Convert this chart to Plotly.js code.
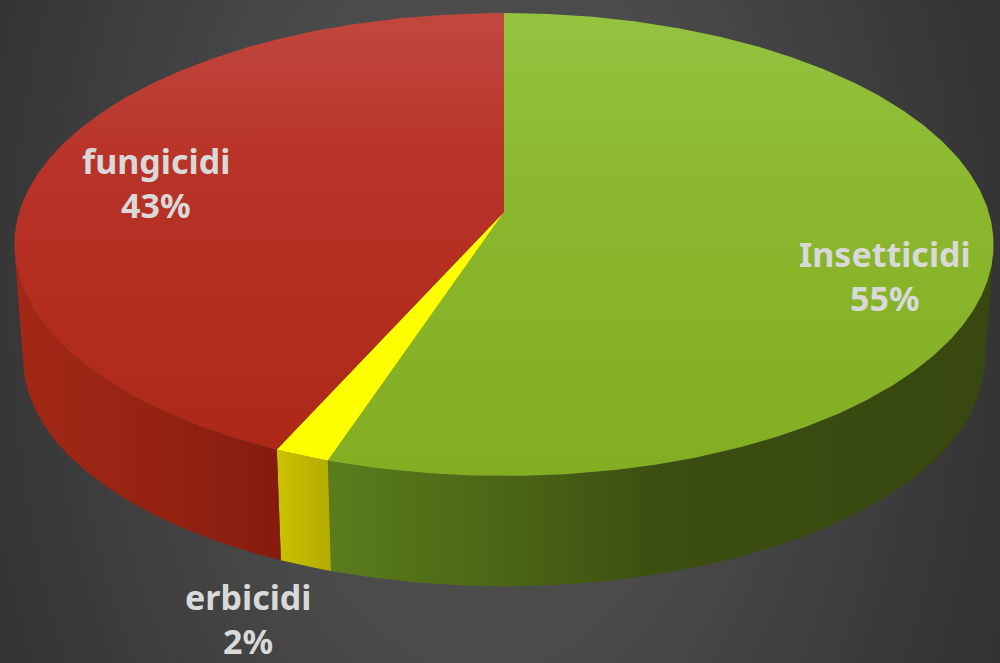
<!DOCTYPE html>
<html><head><meta charset="utf-8">
<script src="https://cdn.plot.ly/plotly-3.0.1.min.js"></script>
<style>
html,body{margin:0;padding:0;width:1000px;height:663px;overflow:hidden;
background:radial-gradient(ellipse 620px 1000px at 485px 300px,#4e4e4e 0%,#4b4b4b 36%,#363636 80%,#2e2e2e 100%);}
#c{width:1000px;height:663px}
</style></head><body><div id="c"></div>
<script>
// Data
const categories = ["Insetticidi", "erbicidi", "fungicidi"];
const values = [55.1, 1.6, 43.3];
const percentLabels = ["55%", "2%", "43%"];

// Styles
const topGradients = [
  [[0,"#94c340"],[0.4,"#8ab72d"],[1,"#83ae22"]],
  [[0,"#ffff00"],[1,"#ffff00"]],
  [[0,"#c1483e"],[0.3,"#b93429"],[1,"#ac2715"]]
];
const wallGradients = [
  [[0,"#5a7d1c"],[0.25,"#4c6716"],[0.5,"#3c4e11"],[1,"#37470f"]],
  [[0,"#cbc200"],[1,"#b3ab00"]],
  [[0,"#a32816"],[0.6,"#932211"],[1,"#851b0e"]]
];
const labelRows = [[885,254,298],[248,597,641],[156,161,205]];

// Projection of the pie disc (perspective view) onto the axes
const apexX = 504, apexY = 212, dX = 484.7, dY = 226.9, persp = 0.1404;
const wallScale = 0.982, wallApexY = 327, wallApexX = 504;
function proj(a){
  const u = Math.sin(a), v = Math.cos(a), den = 1 + persp*v;
  return [dX*u/den, -dY*v/den];
}
const topPt = a => { const p = proj(a); return [apexX+p[0], apexY+p[1]]; };
const botPt = a => { const p = proj(a); return [wallApexX+wallScale*p[0], wallApexY+wallScale*p[1]]; };

const total = values.reduce((s,v)=>s+v,0);
const walls = [], tops = [];
let start = 0;
values.forEach((val,i)=>{
  const end = start + val/total*2*Math.PI;
  const n = Math.max(8, Math.ceil(val*6));
  const tx=[apexX], ty=[apexY], kept=[];
  for(let k=0;k<=n;k++){
    const a = start+(end-start)*k/n, t = topPt(a), b = botPt(a);
    tx.push(t[0]); ty.push(t[1]);
    const t2 = topPt(a+1e-3);
    const cross = (t2[0]-t[0])*(b[1]-t[1])-(t2[1]-t[1])*(b[0]-t[0]);
    if(cross < 0) kept.push(a);
  }
  tx.push(apexX); ty.push(apexY);
  tops.push({type:"scatter",mode:"lines",x:tx,y:ty,fill:"toself",
    line:{width:0,color:"rgba(0,0,0,0)"},hoverinfo:"name",name:categories[i],showlegend:false,
    fillgradient:{type:"vertical",colorscale:topGradients[i],start:13,stop:476}});
  if(kept.length>1){
    const wx=[],wy=[];
    kept.forEach(a=>{const t=topPt(a);wx.push(t[0]);wy.push(t[1]);});
    kept.slice().reverse().forEach(a=>{const b=botPt(a);wx.push(b[0]);wy.push(b[1]);});
    wx.push(wx[0]);wy.push(wy[0]);
    walls.push({type:"scatter",mode:"lines",x:wx,y:wy,fill:"toself",
      line:{width:0,color:"rgba(0,0,0,0)"},hoverinfo:"skip",showlegend:false,
      fillgradient:{type:"horizontal",colorscale:wallGradients[i]}});
  }
  start = end;
});

const labelFont = {family:"'Noto Sans',sans-serif",size:34,color:"#d9d9d9",weight:700};
const annotations = [];
categories.forEach((c,i)=>{
  const r = labelRows[i];
  [[c,r[1]],[percentLabels[i],r[2]]].forEach(row=>annotations.push({
    x:r[0],y:row[1],xref:"x",yref:"y",showarrow:false,text:row[0],
    xanchor:"center",yanchor:"middle",font:labelFont}));
});

Plotly.newPlot("c",walls.concat(tops),{
  width:1000,height:663,margin:{l:0,r:0,t:0,b:0,pad:0},
  paper_bgcolor:"rgba(0,0,0,0)",plot_bgcolor:"rgba(0,0,0,0)",
  xaxis:{range:[0,1000],visible:false,fixedrange:true},
  yaxis:{range:[663,0],visible:false,fixedrange:true},
  annotations:annotations,showlegend:false
},{displayModeBar:false,staticPlot:true});
</script></body></html>
